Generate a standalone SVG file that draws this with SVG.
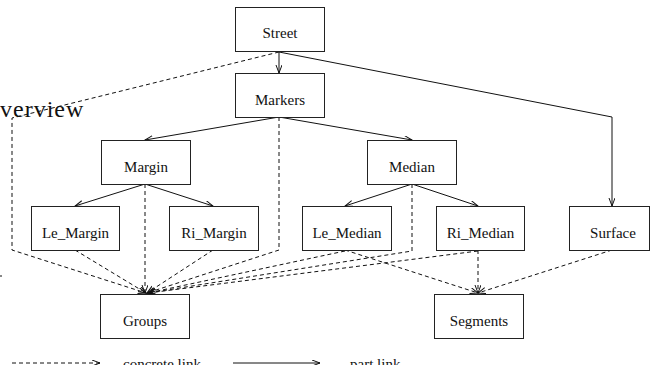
<svg xmlns="http://www.w3.org/2000/svg" width="651" height="365" viewBox="0 0 651 365">
<style>
.box{fill:#fff;stroke:#222;stroke-width:1}
.lbl{font-size:15px;fill:#111;text-anchor:middle}
.sol{fill:none;stroke:#111;stroke-width:1}
.dsh{fill:none;stroke:#111;stroke-width:1;stroke-dasharray:4,3}
</style>
<defs>
<marker id="arr" markerUnits="userSpaceOnUse" markerWidth="10" markerHeight="8" refX="8" refY="3" orient="auto">
<path d="M0,0 L8,3 L0,6" fill="none" stroke="#111" stroke-width="1" stroke-dasharray="none"/>
</marker>
</defs>
<rect width="651" height="365" fill="#fff"/>
<g font-family="'Liberation Serif', 'Times New Roman', serif">
<text x="0" y="117" font-size="24" letter-spacing="1" fill="#111">verview</text>
</g>
<line x1="0" y1="276" x2="2" y2="276" stroke="#111" stroke-width="1"/>
<g id="connectors">
<line class="sol" x1="279" y1="52" x2="279" y2="73" marker-end="url(#arr)"/>
<polyline class="sol" points="279,52 612,117 612,206" marker-end="url(#arr)"/>
<line class="sol" x1="279" y1="117" x2="145" y2="140" marker-end="url(#arr)"/>
<line class="sol" x1="279" y1="117" x2="412" y2="140" marker-end="url(#arr)"/>
<line class="sol" x1="145" y1="184" x2="75" y2="206" marker-end="url(#arr)"/>
<line class="sol" x1="145" y1="184" x2="213" y2="206" marker-end="url(#arr)"/>
<line class="sol" x1="412" y1="184" x2="345" y2="206" marker-end="url(#arr)"/>
<line class="sol" x1="412" y1="184" x2="478" y2="206" marker-end="url(#arr)"/>
<polyline class="dsh" points="279,52 12,118 12,250 146,293" marker-end="url(#arr)"/>
<line class="dsh" x1="75" y1="250" x2="146" y2="293" marker-end="url(#arr)"/>
<line class="dsh" x1="145" y1="184" x2="145" y2="293" marker-end="url(#arr)"/>
<line class="dsh" x1="213" y1="250" x2="147" y2="293" marker-end="url(#arr)"/>
<polyline class="dsh" points="279,117 279,250 147,293" marker-end="url(#arr)"/>
<line class="dsh" x1="345" y1="251" x2="148" y2="293" marker-end="url(#arr)"/>
<polyline class="dsh" points="412,184 412,251 148,293" marker-end="url(#arr)"/>
<line class="dsh" x1="478" y1="251" x2="148" y2="293" marker-end="url(#arr)"/>
<line class="dsh" x1="345" y1="250" x2="478" y2="293" marker-end="url(#arr)"/>
<line class="dsh" x1="478" y1="250" x2="478" y2="293" marker-end="url(#arr)"/>
<line class="dsh" x1="612" y1="250" x2="478" y2="293" marker-end="url(#arr)"/>
<line class="dsh" x1="12" y1="363" x2="100" y2="363" marker-end="url(#arr)"/>
<line class="sol" x1="233" y1="363" x2="320" y2="363" marker-end="url(#arr)"/>
</g>
<g font-family="'Liberation Serif', 'Times New Roman', serif">
<g id="street"><rect class="box" x="235.5" y="7.5" width="89" height="44"/><text class="lbl" x="280" y="38">Street</text></g>
<g id="markers"><rect class="box" x="235.5" y="73.5" width="89" height="44"/><text class="lbl" x="280" y="105">Markers</text></g>
<g id="margin"><rect class="box" x="101.5" y="140.5" width="89" height="44"/><text class="lbl" x="146" y="172">Margin</text></g>
<g id="median"><rect class="box" x="367.5" y="140.5" width="89" height="44"/><text class="lbl" x="412" y="172">Median</text></g>
<g id="le_margin"><rect class="box" x="31.5" y="206.5" width="88" height="44"/><text class="lbl" x="75.5" y="238">Le_Margin</text></g>
<g id="ri_margin"><rect class="box" x="169.5" y="206.5" width="89" height="44"/><text class="lbl" x="214" y="238">Ri_Margin</text></g>
<g id="le_median"><rect class="box" x="302.5" y="206.5" width="89" height="44"/><text class="lbl" x="347" y="238">Le_Median</text></g>
<g id="ri_median"><rect class="box" x="436.5" y="206.5" width="88" height="44"/><text class="lbl" x="480.5" y="238">Ri_Median</text></g>
<g id="surface"><rect class="box" x="569.5" y="206.5" width="80" height="44"/><text class="lbl" x="613" y="238">Surface</text></g>
<g id="groups"><rect class="box" x="100.5" y="294.5" width="89" height="44"/><text class="lbl" x="145" y="326">Groups</text></g>
<g id="segments"><rect class="box" x="434.5" y="294.5" width="89" height="44"/><text class="lbl" x="479" y="326">Segments</text></g>
<g id="legend">
<text x="123" y="369" font-size="15" fill="#111">concrete link</text>
<text x="350" y="369" font-size="15" fill="#111">part link</text>
</g>
</g>
</svg>
